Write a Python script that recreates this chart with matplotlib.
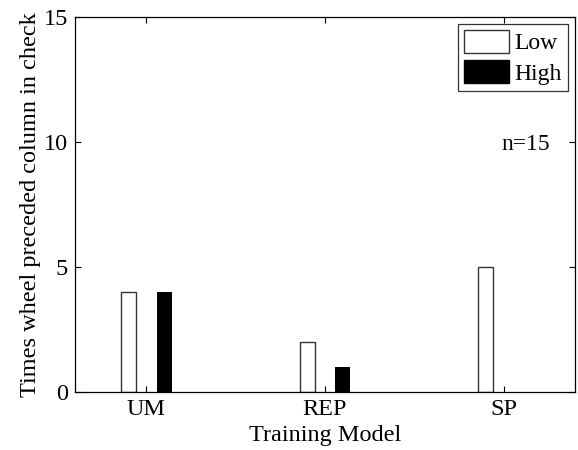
import numpy as np
import matplotlib
matplotlib.use("Agg")
import matplotlib.pyplot as plt
from matplotlib.patches import Patch

categories = ["UM", "REP", "SP"]
low_values = [4, 2, 5]
high_values = [4, 1, 0]
series_labels = ["Low", "High"]
y_ticks = [0, 5, 10, 15]

plt.rcParams["font.family"] = ["Liberation Serif", "DejaVu Serif"]

fig = plt.figure(figsize=(5.78, 4.5), dpi=100)
ax = fig.add_axes([75 / 578, 1 - 392 / 450, 500 / 578, 375 / 450])

x = np.arange(1, len(categories) + 1)
offset = 0.1
width = 0.084
ax.bar(x - offset, low_values, width, facecolor="white", edgecolor="#333333", linewidth=1.0)
ax.bar(x + offset, high_values, width, facecolor="black", edgecolor="black", linewidth=0)

ax.set_xlim(0.6, 3.4)
ax.set_ylim(0, 15)
ax.set_xticks(x)
ax.set_xticklabels(categories)
ax.set_yticks(y_ticks)
ax.tick_params(direction="in", top=True, right=True, labelsize=17.5, length=4, width=0.8, pad=5)
for s in ax.spines.values():
    s.set_linewidth(0.9)

ax.set_ylabel("Times wheel preceded column in check", fontsize=17.5, labelpad=2)
ax.set_xlabel("Training Model", fontsize=17.5, labelpad=4)

ax.text(3.125, 9.9, "n=15", fontsize=17, ha="center", va="center")

handles = [Patch(facecolor="white", edgecolor="#333333", linewidth=1.0),
           Patch(facecolor="black", edgecolor="black")]
leg = ax.legend(handles, series_labels, loc="upper right", fontsize=17,
                frameon=True, fancybox=False, edgecolor="black",
                handlelength=1.9, handleheight=1.1, handletextpad=0.25,
                borderpad=0.25, labelspacing=0.25, borderaxespad=0.3)
leg.get_frame().set_linewidth(0.9)

fig.savefig("out.png", dpi=100)
